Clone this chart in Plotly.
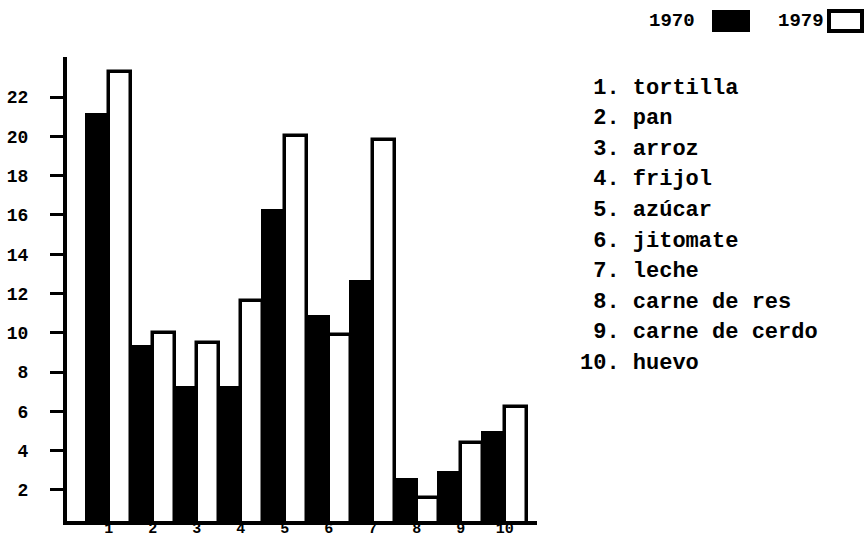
import plotly.graph_objects as go

categories = [1, 2, 3, 4, 5, 6, 7, 8, 9, 10]
tick_labels = ["1", "2", "3", "4", "5", "6", "7", "8", "9", "10"]
names = ["tortilla", "pan", "arroz", "frijol", "azúcar", "jitomate",
         "leche", "carne de res", "carne de cerdo", "huevo"]
values_1970 = [21.1, 9.3, 7.2, 7.2, 16.2, 10.8, 12.6, 2.5, 2.85, 4.9]
values_1979 = [23.3, 10.0, 9.5, 11.6, 20.0, 9.9, 19.8, 1.6, 4.4, 6.2]
y_ticks = [2, 4, 6, 8, 10, 12, 14, 16, 18, 20, 22]

MONO = "Liberation Mono"

fig = go.Figure()
fig.add_trace(go.Bar(x=categories, y=values_1970, name="1970",
                     marker=dict(color="black", line=dict(color="black", width=3))))
fig.add_trace(go.Bar(x=categories, y=values_1979, name="1979",
                     marker=dict(color="white", line=dict(color="black", width=3.5))))

fig.update_layout(
    width=865, height=539,
    margin=dict(l=67, r=328, t=57, b=18, autoexpand=False),
    paper_bgcolor="white", plot_bgcolor="white",
    barmode="group", bargap=0, bargroupgap=0,
    showlegend=False,
    font=dict(family=MONO, color="black"),
)
fig.update_xaxes(
    range=[0.05, 10.73], tickmode="array", tickvals=categories, ticktext=tick_labels,
    showline=True, linewidth=4, linecolor="black", ticks="", showgrid=False,
    zeroline=False, automargin=False, ticklabelstandoff=-10,
    tickfont=dict(family=MONO, size=15, weight="bold"),
)
fig.update_yaxes(
    range=[0.42, 24.04], tickmode="array", tickvals=y_ticks,
    showline=True, linewidth=4, linecolor="black", ticks="outside", ticklen=13,
    tickwidth=3, tickcolor="black", showgrid=False, zeroline=False, automargin=False,
    ticklabelstandoff=18, tickfont=dict(family=MONO, size=18, weight="bold"),
)

def px_x(p):
    return (p - 67) / 470

def px_y(p):
    return (521 - p) / 464

# numbered list of foods at right
for i, nm in enumerate(names):
    num = f"{i + 1}."
    if len(num) < 3:
        num = "\u00a0" + num
    ypix = 88 + 30.6 * i
    fig.add_annotation(xref="paper", yref="paper", x=px_x(578), y=px_y(ypix),
                       xanchor="left", yanchor="middle", showarrow=False,
                       text=num + "\u00a0" + nm,
                       font=dict(family=MONO, size=22, weight="bold", color="black"))

# year key (text left of swatch)
fig.add_annotation(xref="paper", yref="paper", x=px_x(697), y=px_y(21),
                   xanchor="right", yanchor="middle", showarrow=False, text="1970",
                   font=dict(family=MONO, size=19, weight="bold"))
fig.add_shape(type="rect", xref="paper", yref="paper", x0=px_x(713), x1=px_x(749),
              y0=px_y(31), y1=px_y(11), fillcolor="black", line=dict(color="black", width=2))
fig.add_annotation(xref="paper", yref="paper", x=px_x(826), y=px_y(21),
                   xanchor="right", yanchor="middle", showarrow=False, text="1979",
                   font=dict(family=MONO, size=19, weight="bold"))
fig.add_shape(type="rect", xref="paper", yref="paper", x0=px_x(829), x1=px_x(862),
              y0=px_y(31), y1=px_y(11), fillcolor="white", line=dict(color="black", width=4))

fig.write_html("out.html", config={"displayModeBar": False},
               post_script="document.body.style.margin='0';")
